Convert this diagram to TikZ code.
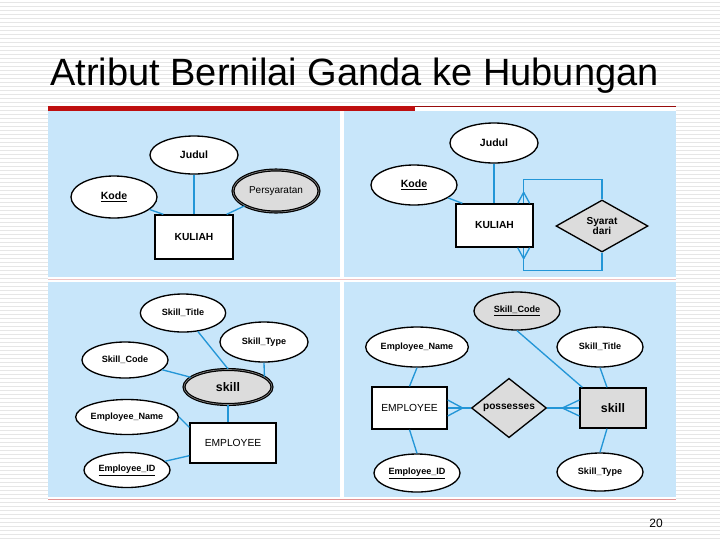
\documentclass[tikz,border=0pt]{standalone}
\usepackage{fontspec}
\setmainfont{Liberation Sans}
\usetikzlibrary{shapes.geometric,calc}
\definecolor{cPanel}{RGB}{200,230,250}
\definecolor{cLink}{RGB}{35,150,215}
\definecolor{cShade}{RGB}{220,220,220}
\definecolor{cRed}{RGB}{190,15,15}
\definecolor{cStripe}{RGB}{230,230,230}

\begin{document}
\begin{tikzpicture}[x=0.75pt, y=-0.75pt,
  attr/.style={ellipse, draw, line width=1pt, fill=white, inner sep=0pt,
    minimum width=64.5pt, minimum height=29pt,
    font=\fontsize{6.8}{8}\selectfont\bfseries},
  multi/.style={attr, fill=cShade, draw=black, double=gray, double distance=0.5pt, line width=0.9pt},
  ent/.style={rectangle, draw, line width=1pt, fill=white, inner sep=0pt,
    font=\fontsize{7.7}{9}\selectfont},
  rel/.style={diamond, draw, line width=1pt, fill=cShade, inner sep=0pt, align=center,
    font=\fontsize{7.6}{8.5}\selectfont\bfseries},
  link/.style={draw=cLink, line width=1pt}]
  \useasboundingbox (0,0) rectangle (720,540);
  % background stripes
  \foreach \y in {2,6,...,538}
    \draw[cStripe, line width=0.75pt] (0,\y) -- (720,\y);
  \fill[white] (48,106) rectangle (676,499);
  \fill[cPanel] (48,111) rectangle (340,277);
  \fill[cPanel] (344,111) rectangle (676,277);
  \fill[cPanel] (48,282) rectangle (340,497);
  \fill[cPanel] (344,282) rectangle (676,497);
  \draw[cRed!25, line width=0.4pt] (48,279.5) -- (676,279.5);
  \fill[cRed] (48,106) rectangle (415,111);
  \draw[cRed!80!black, line width=0.75pt] (415,106.5) -- (676,106.5);
  \draw[cRed!45, line width=0.5pt] (48,499.5) -- (676,499.5);
  % title and page number
  \node[anchor=base west, inner sep=0pt, font=\fontsize{28.5}{34}\selectfont] (title) at (50,85) {Atribut Bernilai Ganda ke Hubungan};
  \node[font=\fontsize{9}{10}\selectfont] (pageNo) at (656,523) {20};

  % top left: multivalued attribute
  \node[attr, minimum width=66pt, minimum height=28.5pt, font=\fontsize{7.9}{9}\selectfont\bfseries] (tlJudul) at (194,155) {Judul};
  \node[attr, minimum height=31.5pt, font=\fontsize{7.9}{9}\selectfont\bfseries] (tlKode) at (114,197) {\underline{Kode}};
  \node[multi, minimum height=31.5pt, font=\fontsize{7.5}{9}\selectfont] (tlPers) at (276,191) {Persyaratan};
  \node[ent, minimum width=58.5pt, minimum height=33pt, font=\fontsize{7.7}{9}\selectfont\bfseries] (tlKuliah) at (194,237) {KULIAH};
  \draw[link] (tlJudul.south) -- (tlJudul.south |- tlKuliah.north);
  \draw[link] (tlKode) -- ($(tlKuliah.north west)+(9,0)$);
  \draw[link] (tlPers) -- ($(tlKuliah.north east)+(-7,0)$);

  % top right: recursive relationship
  \node[attr, minimum width=66pt, minimum height=30pt, font=\fontsize{7.9}{9}\selectfont\bfseries] (trJudul) at (494,143) {Judul};
  \node[attr, minimum height=30pt, font=\fontsize{7.9}{9}\selectfont\bfseries] (trKode) at (414,185) {\underline{Kode}};
  \node[ent, minimum width=57.75pt, minimum height=32.25pt, font=\fontsize{7.7}{9}\selectfont\bfseries] (trKuliah) at (494.5,225.5) {KULIAH};
  \node[rel, minimum width=69pt, minimum height=39pt] (trSyarat) at (602,226) {Syarat\\[-1pt]dari};
  \draw[link] (trJudul.south) -- (trJudul.south |- trKuliah.north);
  \draw[link] (trKode) -- ($(trKuliah.north west)+(7,0)$);
  \coordinate (trTopFoot) at ($(trKuliah.north east)+(-10,-11)$);
  \coordinate (trTopTurn) at ($(trKuliah.north east)+(-10,-24)$);
  \coordinate (trBotFoot) at ($(trKuliah.south east)+(-10,11)$);
  \coordinate (trBotTurn) at ($(trKuliah.south east)+(-10,23)$);
  \draw[link] (trSyarat.north) |- (trTopTurn) -- (trTopFoot);
  \draw[link] (trSyarat.south) |- (trBotTurn) -- (trBotFoot);
  \foreach \dx in {-16,-10,-4} {
    \draw[link] (trTopFoot) -- ($(trKuliah.north east)+(\dx,0)$);
    \draw[link] (trBotFoot) -- ($(trKuliah.south east)+(\dx,0)$);
  }

  % bottom left: multivalued attribute skill
  \node[attr, minimum width=64pt, minimum height=28.5pt] (blTitle) at (183,313) {Skill\_Title};
  \node[attr, minimum width=66pt, minimum height=30pt] (blType) at (264,342) {Skill\_Type};
  \node[attr, minimum height=27pt] (blCode) at (125,360) {Skill\_Code};
  \node[multi, minimum width=66pt, minimum height=26.25pt, font=\fontsize{9.3}{11}\selectfont\bfseries] (blSkill) at (228,387) {skill};
  \node[attr, minimum height=26.25pt] (blName) at (127,417) {Employee\_Name};
  \node[attr, minimum height=26.25pt] (blID) at (127,470) {\underline{Employee\_ID}};
  \node[ent, minimum width=64.5pt, minimum height=30pt] (blEmp) at (233,443) {EMPLOYEE};
  \draw[link] (blTitle) -- (blSkill.north);
  \draw[link] (blType.south) -- (blSkill.16);
  \draw[link] (blCode) -- (blSkill);
  \draw[link] (blSkill.south) -- (blSkill.south |- blEmp.north);
  \draw[link] (blName.east) -- ($(blEmp.north west)+(0,5)$);
  \draw[link] (blID) -- ($(blEmp.south west)+(0,-8)$);

  % bottom right: relationship possesses
  \node[attr, fill=cShade, minimum height=28.5pt] (brCode) at (517,311) {\underline{Skill\_Code}};
  \node[attr, minimum width=66pt, minimum height=30pt] (brName) at (417,347) {Employee\_Name};
  \node[attr, minimum height=30pt] (brTitle) at (600,347) {Skill\_Title};
  \node[ent, minimum width=56.25pt, minimum height=31.5pt] (brEmp) at (409.5,408) {EMPLOYEE};
  \node[rel, minimum width=56.25pt, minimum height=29.25pt] (brPos) at (509,408) {possesses};
  \node[ent, fill=cShade, minimum width=49.5pt, minimum height=30pt, font=\fontsize{9.3}{11}\selectfont\bfseries] (brSkill) at (613,408) {skill};
  \node[attr, minimum height=28.5pt] (brID) at (417,473) {\underline{Employee\_ID}};
  \node[attr, minimum height=28.5pt] (brType) at (600,472) {Skill\_Type};
  \draw[link] (brName.south) -- (brEmp.north);
  \draw[link] (brEmp.south) -- (brID.north);
  \draw[link] (brCode.south) -- ($(brSkill.north west)+(3,0)$);
  \draw[link] (brTitle.south) -- ($(brSkill.north)+(-6,0)$);
  \draw[link] ($(brSkill.south)+(-6,0)$) -- (brType.north);
  \coordinate (brEmpFoot) at ($(brEmp.east)+(15,0)$);
  \coordinate (brSkillFoot) at ($(brSkill.west)+(-17,0)$);
  \draw[link] (brEmp.east) -- (brPos.west);
  \draw[link] (brPos.east) -- (brSkill.west);
  \foreach \dy in {-8,8} {
    \draw[link] (brEmpFoot) -- ($(brEmp.east)+(0,\dy)$);
    \draw[link] (brSkillFoot) -- ($(brSkill.west)+(0,\dy)$);
  }
\end{tikzpicture}
\end{document}
